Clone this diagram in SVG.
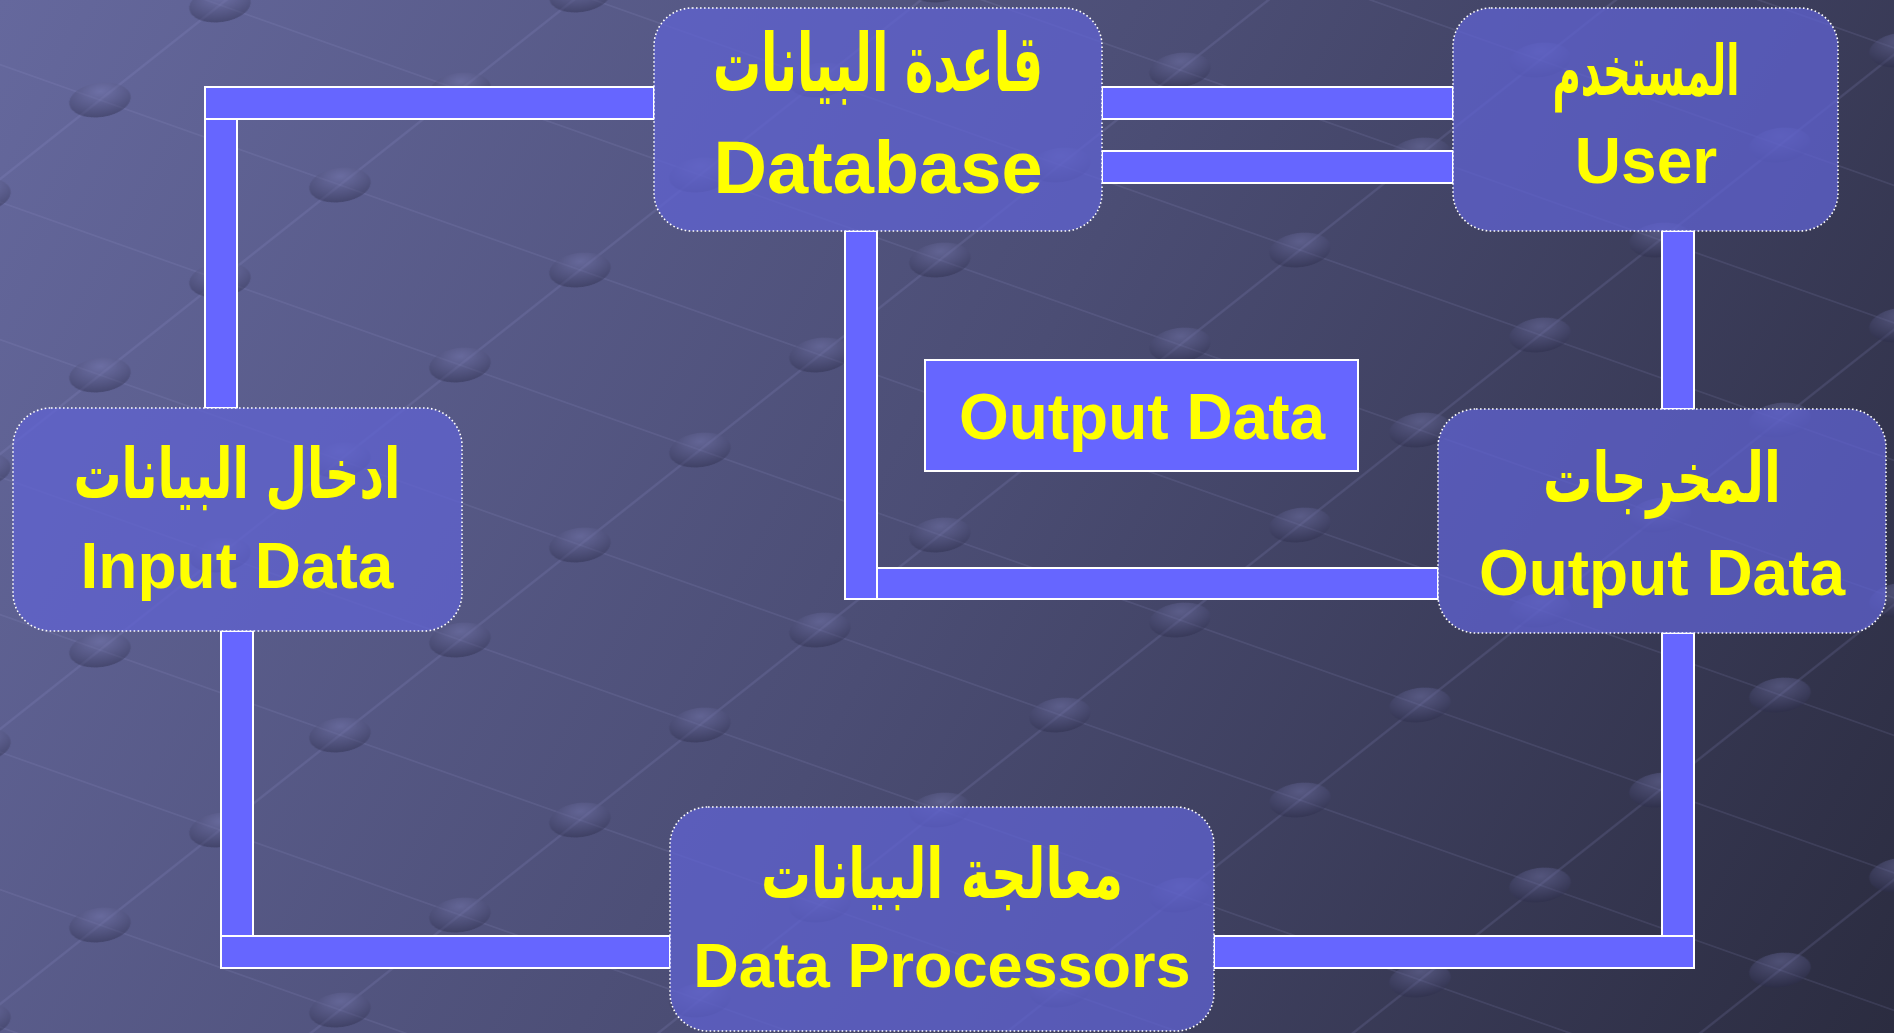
<svg xmlns="http://www.w3.org/2000/svg" width="1894" height="1033" viewBox="0 0 1894 1033">
<defs>
<linearGradient id="bg" gradientUnits="userSpaceOnUse" x1="0" y1="0" x2="1894" y2="1033">
<stop offset="0" stop-color="#65689d"/>
<stop offset="0.5" stop-color="#4b4d74"/>
<stop offset="1" stop-color="#2b2c40"/>
</linearGradient>
<radialGradient id="dotg" cx="0.35" cy="0.3" r="0.75">
<stop offset="0" stop-color="#7f81bb" stop-opacity="0.4"/>
<stop offset="1" stop-color="#2a2b48" stop-opacity="0.45"/>
</radialGradient>
<pattern id="net" patternUnits="userSpaceOnUse" x="0" y="0" width="100" height="100" patternTransform="matrix(2.4 0.85 -1.2 0.95 40 10)">
<rect x="0" y="49.5" width="100" height="1" fill="#9a9cd8" fill-opacity="0.16"/>
<rect x="49.5" y="0" width="1" height="100" fill="#9a9cd8" fill-opacity="0.16"/>
<ellipse cx="50" cy="50" rx="10" ry="16" fill="url(#dotg)"/>
</pattern>
<style>
.box{fill:#6062d2;fill-opacity:0.74;stroke:#ffffff;stroke-width:1.6;stroke-dasharray:1.6 2.4;}
.bar{fill:#6666ff;stroke:#ffffff;stroke-width:2;}
.en{font-family:"Liberation Sans",Arial,sans-serif;font-weight:bold;fill:#ffff00;text-anchor:middle;}
.ar{font-family:"DejaVu Sans","Noto Sans","Liberation Sans",sans-serif;font-weight:bold;fill:#ffff00;text-anchor:middle;direction:rtl;}
</style>
</defs>
<rect x="0" y="0" width="1894" height="1033" fill="url(#bg)"/>
<rect x="0" y="0" width="1894" height="1033" fill="url(#net)"/>
<g id="connectors">
<rect class="bar" x="205" y="119" width="32" height="289"/>
<rect class="bar" x="205" y="87" width="449" height="32"/>
<rect class="bar" x="1102" y="87" width="351" height="32"/>
<rect class="bar" x="1102" y="151" width="351" height="32"/>
<rect class="bar" x="845" y="231" width="32" height="368"/>
<rect class="bar" x="877" y="568" width="561" height="31"/>
<rect class="bar" x="1662" y="231" width="32" height="178"/>
<rect class="bar" x="221" y="631" width="32" height="305"/>
<rect class="bar" x="221" y="936" width="449" height="32"/>
<rect class="bar" x="1662" y="633" width="32" height="303"/>
<rect class="bar" x="1214" y="936" width="480" height="32"/>
</g>
<g id="database">
<rect class="box" x="654" y="8" width="448" height="223" rx="38" ry="38"/>
<text class="ar" x="878" y="91" font-size="80" textLength="330" lengthAdjust="spacingAndGlyphs">قاعدة البيانات</text>
<text class="en" x="878" y="193" font-size="74">Database</text>
</g>
<g id="user">
<rect class="box" x="1453" y="8" width="385" height="223" rx="38" ry="38"/>
<text class="ar" x="1646" y="95" font-size="70" textLength="187" lengthAdjust="spacingAndGlyphs">المستخدم</text>
<text class="en" x="1646" y="183" font-size="64">User</text>
</g>
<g id="input">
<rect class="box" x="13" y="408" width="449" height="223" rx="38" ry="38"/>
<text class="ar" x="237" y="498" font-size="70" textLength="327" lengthAdjust="spacingAndGlyphs">ادخال البيانات</text>
<text class="en" x="237" y="588" font-size="64">Input Data</text>
</g>
<g id="output">
<rect class="box" x="1438" y="409" width="448" height="224" rx="38" ry="38"/>
<text class="ar" x="1662" y="502" font-size="70" textLength="238" lengthAdjust="spacingAndGlyphs">المخرجات</text>
<text class="en" x="1662" y="595" font-size="64">Output Data</text>
</g>
<g id="processors">
<rect class="box" x="670" y="807" width="544" height="224" rx="38" ry="38"/>
<text class="ar" x="942" y="898" font-size="70" textLength="362" lengthAdjust="spacingAndGlyphs">معالجة البيانات</text>
<text class="en" x="942" y="987" font-size="63">Data Processors</text>
</g>
<g id="output-label">
<rect x="925" y="360" width="433" height="111" fill="#6666ff" stroke="#ffffff" stroke-width="2"/>
<text class="en" x="1142" y="439" font-size="64">Output Data</text>
</g>
</svg>
